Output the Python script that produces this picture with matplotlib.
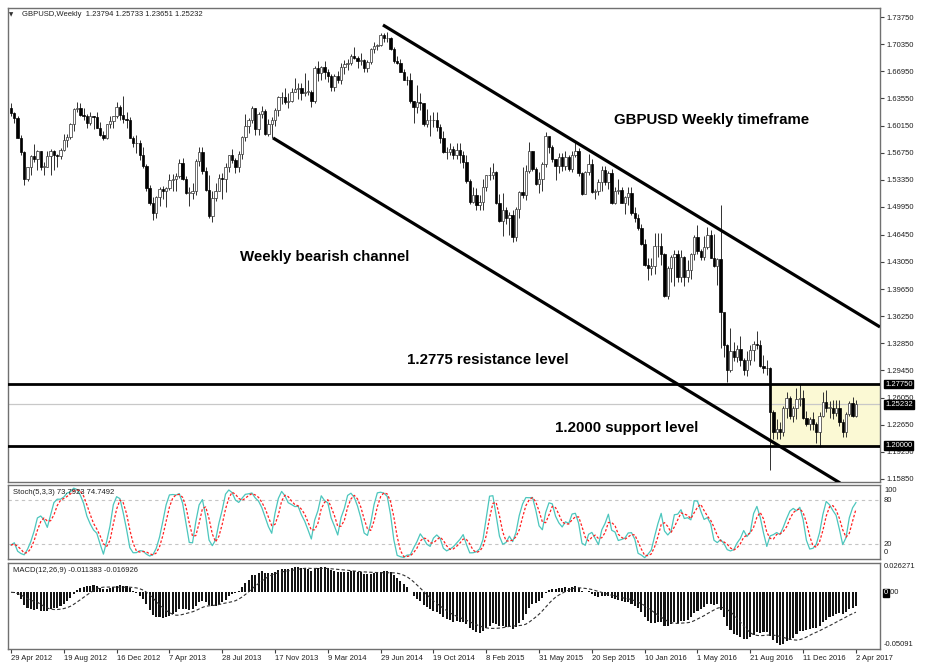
import numpy as np
import pandas as pd
import matplotlib
matplotlib.use('Agg')
import matplotlib.pyplot as plt
import matplotlib.transforms as mtransforms
from matplotlib.patches import Rectangle

plt.rcParams['font.family'] = ['Liberation Sans', 'DejaVu Sans']

# weekly GBPUSD bars, 29 Apr 2012 .. 2 Apr 2017 (open = previous close)
first_open = 1.6235
highs = [
    1.6300, 1.6180, 1.6130, 1.5900, 1.5700, 1.5500, 1.5650, 1.5780, 1.5710, 1.5690,
    1.5560, 1.5700, 1.5720, 1.5710, 1.5660, 1.5730, 1.5910, 1.5910, 1.6050, 1.6230,
    1.6310, 1.6300, 1.6230, 1.6160, 1.6180, 1.6140, 1.6180, 1.6060, 1.5940, 1.6030,
    1.6130, 1.6140, 1.6310, 1.6270, 1.6380, 1.6190, 1.6120, 1.5880, 1.5900, 1.5830,
    1.5740, 1.5530, 1.5270, 1.5120, 1.5130, 1.5240, 1.5260, 1.5250, 1.5410, 1.5410,
    1.5420, 1.5600, 1.5610, 1.5380, 1.5240, 1.5290, 1.5600, 1.5750, 1.5750, 1.5490,
    1.5400, 1.5200, 1.5300, 1.5410, 1.5420, 1.5550, 1.5650, 1.5720, 1.5610, 1.5690,
    1.5880, 1.6160, 1.6110, 1.6260, 1.6240, 1.6180, 1.6260, 1.6220, 1.6100, 1.6120,
    1.6230, 1.6380, 1.6440, 1.6480, 1.6420, 1.6490, 1.6610, 1.6550, 1.6550, 1.6670,
    1.6590, 1.6460, 1.6760, 1.6820, 1.6760, 1.6820, 1.6720, 1.6660, 1.6660, 1.6700,
    1.6800, 1.6840, 1.6850, 1.6910, 1.7000, 1.6880, 1.6920, 1.6850, 1.6840, 1.6990,
    1.7060, 1.7040, 1.7180, 1.7180, 1.7190, 1.7120, 1.7000, 1.6880, 1.6850, 1.6720,
    1.6630, 1.6670, 1.6320, 1.6520, 1.6420, 1.6300, 1.6220, 1.6150, 1.6190, 1.6190,
    1.6030, 1.5950, 1.5740, 1.5800, 1.5760, 1.5790, 1.5790, 1.5690, 1.5640, 1.5340,
    1.5250, 1.5230, 1.5150, 1.5350, 1.5400, 1.5490, 1.5550, 1.5450, 1.5160, 1.5170,
    1.4990, 1.4930, 1.4960, 1.5000, 1.5190, 1.5500, 1.5520, 1.5810, 1.5700, 1.5490,
    1.5430, 1.5560, 1.5930, 1.5800, 1.5770, 1.5590, 1.5670, 1.5670, 1.5690, 1.5650,
    1.5690, 1.5820, 1.5730, 1.5430, 1.5440, 1.5660, 1.5600, 1.5220, 1.5340, 1.5510,
    1.5510, 1.5440, 1.5470, 1.5240, 1.5340, 1.5250, 1.5130, 1.5240, 1.5240, 1.4990,
    1.4910, 1.4780, 1.4590, 1.4350, 1.4350, 1.4670, 1.4670, 1.4670, 1.4420, 1.4250,
    1.4390, 1.4460, 1.4450, 1.4460, 1.4380, 1.4330, 1.4420, 1.4640, 1.4770, 1.4470,
    1.4630, 1.4740, 1.4700, 1.4660, 1.4350, 1.5020, 1.3480, 1.3280, 1.3480, 1.3300,
    1.3270, 1.3380, 1.3100, 1.3190, 1.3260, 1.3320, 1.3440, 1.3330, 1.3140, 1.3080,
    1.2990, 1.2450, 1.2340, 1.2300, 1.2500, 1.2670, 1.2630, 1.2500, 1.2720, 1.2770,
    1.2700, 1.2440, 1.2360, 1.2430, 1.2300, 1.2420, 1.2670, 1.2700, 1.2560, 1.2580,
    1.2570, 1.2570, 1.2340, 1.2420, 1.2560, 1.2610, 1.25733]
lows = [
    1.6140, 1.6050, 1.5860, 1.5640, 1.5270, 1.5320, 1.5400, 1.5560, 1.5460, 1.5460,
    1.5390, 1.5490, 1.5400, 1.5460, 1.5500, 1.5590, 1.5700, 1.5740, 1.5840, 1.5950,
    1.6180, 1.6140, 1.6080, 1.5980, 1.6020, 1.5970, 1.5990, 1.5880, 1.5830, 1.5850,
    1.5990, 1.5990, 1.6110, 1.6090, 1.6050, 1.5990, 1.5860, 1.5750, 1.5670, 1.5580,
    1.5480, 1.5190, 1.5020, 1.4830, 1.4860, 1.5010, 1.5100, 1.4990, 1.5210, 1.5190,
    1.5200, 1.5360, 1.5330, 1.5160, 1.5010, 1.5090, 1.5150, 1.5510, 1.5410, 1.5190,
    1.4850, 1.4810, 1.5070, 1.5190, 1.5100, 1.5180, 1.5430, 1.5540, 1.5420, 1.5430,
    1.5600, 1.5820, 1.5920, 1.6050, 1.5890, 1.5890, 1.6110, 1.5890, 1.5880, 1.5860,
    1.6010, 1.6140, 1.6280, 1.6290, 1.6230, 1.6310, 1.6430, 1.6350, 1.6340, 1.6390,
    1.6400, 1.6250, 1.6300, 1.6570, 1.6580, 1.6600, 1.6560, 1.6450, 1.6450, 1.6550,
    1.6530, 1.6660, 1.6710, 1.6770, 1.6850, 1.6730, 1.6770, 1.6690, 1.6690, 1.6780,
    1.6920, 1.6960, 1.7010, 1.7060, 1.7060, 1.6960, 1.6800, 1.6790, 1.6680, 1.6580,
    1.6520, 1.6300, 1.6050, 1.6170, 1.6210, 1.6010, 1.6000, 1.5880, 1.6000, 1.5950,
    1.5790, 1.5670, 1.5590, 1.5640, 1.5590, 1.5590, 1.5540, 1.5480, 1.5300, 1.5030,
    1.5040, 1.4950, 1.4950, 1.4950, 1.5190, 1.5330, 1.5350, 1.5030, 1.4800, 1.4630,
    1.4780, 1.4640, 1.4560, 1.4570, 1.4860, 1.5110, 1.5080, 1.5420, 1.5450, 1.5270,
    1.5170, 1.5200, 1.5490, 1.5670, 1.5560, 1.5330, 1.5420, 1.5440, 1.5460, 1.5450,
    1.5430, 1.5620, 1.5380, 1.5150, 1.5170, 1.5390, 1.5170, 1.5100, 1.5150, 1.5200,
    1.5270, 1.5220, 1.5030, 1.5030, 1.5160, 1.5040, 1.4900, 1.5020, 1.4890, 1.4800,
    1.4710, 1.4520, 1.4260, 1.4080, 1.4140, 1.4150, 1.4370, 1.4270, 1.3870, 1.3840,
    1.4060, 1.4000, 1.4060, 1.4060, 1.4000, 1.4050, 1.4090, 1.4330, 1.4410, 1.4330,
    1.4330, 1.4470, 1.4350, 1.4240, 1.4010, 1.3230, 1.3120, 1.2800, 1.2930, 1.3060,
    1.3050, 1.3000, 1.2890, 1.2870, 1.3010, 1.3060, 1.3220, 1.2990, 1.2910, 1.2890,
    1.1700, 1.2080, 1.2090, 1.2080, 1.2120, 1.2350, 1.2340, 1.2300, 1.2340, 1.2500,
    1.2340, 1.2250, 1.2200, 1.2200, 1.2040, 1.1990, 1.2360, 1.2420, 1.2350, 1.2340,
    1.2380, 1.2250, 1.2110, 1.2110, 1.2380, 1.2365, 1.23651]
closes = [
    1.6170, 1.6110, 1.5860, 1.5680, 1.5350, 1.5490, 1.5630, 1.5590, 1.5700, 1.5500,
    1.5500, 1.5630, 1.5700, 1.5640, 1.5630, 1.5710, 1.5830, 1.5870, 1.6030, 1.6220,
    1.6230, 1.6150, 1.6140, 1.6050, 1.6130, 1.6120, 1.5990, 1.5890, 1.5860, 1.6030,
    1.6070, 1.6130, 1.6250, 1.6150, 1.6100, 1.6080, 1.5860, 1.5790, 1.5790, 1.5640,
    1.5510, 1.5230, 1.5040, 1.4920, 1.5120, 1.5220, 1.5190, 1.5230, 1.5330, 1.5340,
    1.5380, 1.5540, 1.5350, 1.5170, 1.5170, 1.5200, 1.5570, 1.5680, 1.5450, 1.5210,
    1.4880, 1.5110, 1.5200, 1.5360, 1.5350, 1.5500, 1.5640, 1.5580, 1.5500, 1.5660,
    1.5870, 1.6010, 1.6090, 1.6230, 1.5970, 1.6160, 1.6200, 1.5910, 1.6040, 1.6080,
    1.6210, 1.6370, 1.6370, 1.6310, 1.6320, 1.6440, 1.6470, 1.6480, 1.6420, 1.6440,
    1.6440, 1.6320, 1.6740, 1.6670, 1.6750, 1.6680, 1.6630, 1.6500, 1.6630, 1.6580,
    1.6750, 1.6780, 1.6800, 1.6890, 1.6860, 1.6820, 1.6830, 1.6740, 1.6810, 1.6970,
    1.7010, 1.7020, 1.7150, 1.7110, 1.7110, 1.6980, 1.6820, 1.6800, 1.6690, 1.6590,
    1.6580, 1.6320, 1.6250, 1.6310, 1.6300, 1.6040, 1.6080, 1.6080, 1.6080, 1.6000,
    1.5860, 1.5680, 1.5680, 1.5720, 1.5640, 1.5710, 1.5650, 1.5560, 1.5320, 1.5060,
    1.5150, 1.5020, 1.5060, 1.5250, 1.5390, 1.5390, 1.5430, 1.5050, 1.4820, 1.4960,
    1.4860, 1.4890, 1.4620, 1.4970, 1.5180, 1.5150, 1.5450, 1.5690, 1.5470, 1.5280,
    1.5350, 1.5530, 1.5880, 1.5740, 1.5590, 1.5510, 1.5620, 1.5510, 1.5620, 1.5470,
    1.5640, 1.5700, 1.5420, 1.5160, 1.5430, 1.5530, 1.5180, 1.5190, 1.5310, 1.5460,
    1.5310, 1.5420, 1.5040, 1.5200, 1.5210, 1.5050, 1.5120, 1.5170, 1.4920, 1.4860,
    1.4730, 1.4530, 1.4270, 1.4230, 1.4250, 1.4500, 1.4500, 1.4400, 1.3880, 1.4230,
    1.4370, 1.4410, 1.4120, 1.4370, 1.4120, 1.4210, 1.4400, 1.4620, 1.4440, 1.4370,
    1.4490, 1.4640, 1.4360, 1.4250, 1.4340, 1.3680, 1.3270, 1.2950, 1.3190, 1.3110,
    1.3210, 1.3080, 1.2950, 1.3070, 1.3200, 1.3280, 1.3260, 1.3000, 1.2980, 1.2970,
    1.2430, 1.2180, 1.2210, 1.2180, 1.2480, 1.2600, 1.2380, 1.2470, 1.2590, 1.2600,
    1.2350, 1.2270, 1.2340, 1.2280, 1.2180, 1.2370, 1.2550, 1.2480, 1.2480, 1.2410,
    1.2480, 1.2300, 1.2170, 1.2400, 1.2540, 1.23794, 1.25232]

date_labels = ['29 Apr 2012', '19 Aug 2012', '16 Dec 2012', '7 Apr 2013', '28 Jul 2013',
               '17 Nov 2013', '9 Mar 2014', '29 Jun 2014', '19 Oct 2014', '8 Feb 2015',
               '31 May 2015', '20 Sep 2015', '10 Jan 2016', '1 May 2016', '21 Aug 2016',
               '11 Dec 2016', '2 Apr 2017']
price_ticks = [1.7375, 1.7035, 1.6695, 1.6355, 1.6015, 1.5675, 1.5335, 1.4995, 1.4645,
               1.4305, 1.3965, 1.3625, 1.3285, 1.2945, 1.2605, 1.2265, 1.1925, 1.1585]
resistance = 1.2775
support = 1.2000
last_price = 1.25232
# trendlines (bar index, price)
upper_channel = ([112.7, 263.3], [1.7275, 1.3490])
lower_channel = ([79.4, 251.2], [1.5859, 1.1535])
box_start = 230

W, H = 929, 664
def fx(x):
    return x / W
def fy(y):
    return 1 - y / H

n = len(closes)
idx = np.arange(n)
o = np.array([first_open] + closes[:-1])
c = np.array(closes)
hi = np.array(highs)
lo = np.array(lows)

# indicators
cs, hs, ls = pd.Series(c), pd.Series(hi), pd.Series(lo)
ll = ls.rolling(5, min_periods=1).min()
hh = hs.rolling(5, min_periods=1).max()
stoch_k = 100 * (cs - ll).rolling(3, min_periods=1).sum() / (hh - ll).rolling(3, min_periods=1).sum()
stoch_d = stoch_k.rolling(3, min_periods=1).mean()
macd = cs.ewm(span=12, adjust=False).mean() - cs.ewm(span=26, adjust=False).mean()
signal = macd.rolling(9, min_periods=1).mean()

fig = plt.figure(figsize=(W / 100, H / 100), dpi=100)
xl = (-0.91, 263.3)
spine_c = '#707070'

ax = fig.add_axes([fx(8), fy(482), 872 / W, 474 / H])
ax_st = fig.add_axes([fx(8), fy(559), 872 / W, 74 / H])
ax_md = fig.add_axes([fx(8), fy(649), 872 / W, 86 / H])
for a in (ax, ax_st, ax_md):
    a.set_xlim(*xl)
    for s in a.spines.values():
        s.set_color(spine_c)
        s.set_linewidth(1.0)
    a.tick_params(axis='x', bottom=False, labelbottom=False)
    a.tick_params(axis='y', left=False, labelleft=False)

# --- main price panel
ax.set_ylim(1.15472, 1.74878)
ax.add_patch(Rectangle((box_start, support), xl[1] - box_start, resistance - support,
                       facecolor='#fbf9d4', edgecolor='#606060', lw=0.6, zorder=0.5))
ax.axhline(last_price, color='#c8c8c8', lw=0.9, zorder=1)

ax.vlines(idx, lo, hi, color='#303030', lw=0.7, zorder=2)
bull = c >= o
body = np.maximum(np.abs(c - o), 0.0007)
bottom = np.minimum(o, c)
ax.bar(idx[bull], body[bull], bottom=bottom[bull], width=0.72, color='white',
       edgecolor='#303030', linewidth=0.5, zorder=3)
ax.bar(idx[~bull], body[~bull], bottom=bottom[~bull], width=0.72, color='black',
       edgecolor='black', linewidth=0.5, zorder=3)

ax.axhline(resistance, color='black', lw=2.0, zorder=4)
ax.axhline(support, color='black', lw=2.0, zorder=4)
ax.plot(*upper_channel, color='black', lw=2.3, zorder=4, solid_capstyle='butt')
ax.plot(*lower_channel, color='black', lw=2.3, zorder=4, solid_capstyle='butt')

ax.yaxis.tick_right()
ax.set_yticks(price_ticks)
ax.set_yticklabels(['%.5f' % v for v in price_ticks])
ax.tick_params(axis='y', right=True, labelright=True, direction='out', length=3,
               color='#404040', labelsize=5.5, pad=2, labelcolor='#202020')

trans = mtransforms.blended_transform_factory(ax.transAxes, ax.transData)
for v in (resistance, last_price, support):
    ax.text(1.0 + 5 / 872, v, '%.5f' % v, transform=trans, color='white', fontsize=5.5,
            va='center', ha='left', clip_on=False, zorder=10,
            bbox=dict(facecolor='black', edgecolor='black', pad=0.12, boxstyle='square'))

# --- stochastic panel
ax_st.set_ylim(0, 100)
for lv in (80, 20):
    ax_st.axhline(lv, color='#c4c4c4', lw=0.8, ls=(0, (3, 3)))
ax_st.plot(idx, stoch_k, color='#4cc6bd', lw=0.9)
ax_st.plot(idx, stoch_d, color='#ff2020', lw=0.9, ls=(0, (2, 1.5)))

# --- MACD panel
ax_md.set_ylim(-0.05091, 0.026271)
ax_md.bar(idx, macd, width=0.62, color='#141414', linewidth=0)
ax_md.plot(idx, signal, color='#303030', lw=0.8, ls=(0, (3, 2)))
ax_md.set_xticks(np.arange(0, n, 16))
ax_md.set_xticklabels(date_labels, ha='left')
ax_md.tick_params(axis='x', bottom=True, labelbottom=True, direction='out', length=3,
                  color='#404040', labelsize=5.5, pad=1, labelcolor='#202020')

# --- texts
fig.text(fx(9), fy(15), '\u25bc', fontsize=4, va='center', color='#303030',
         family=['DejaVu Sans'])
fig.text(fx(22), fy(15), 'GBPUSD,Weekly  1.23794 1.25733 1.23651 1.25232',
         fontsize=5.5, va='center', color='#202020')
fig.text(fx(13), fy(492), 'Stoch(5,3,3) 73.7923 74.7492', fontsize=5.5, va='center',
         color='#202020')
fig.text(fx(13), fy(570), 'MACD(12,26,9) -0.011383 -0.016926', fontsize=5.5,
         va='center', color='#202020')

side = [(490, '100'), (500, '80'), (545, '20'), (552, '0'),
        (567, '0.026271'), (645, '-0.05091')]
for yy, t in side:
    fig.text(fx(884), fy(yy), t, fontsize=5.5, va='center', color='#202020')
fig.text(fx(884), fy(593), '0', fontsize=5.5, va='center', color='white',
         bbox=dict(facecolor='black', edgecolor='black', pad=0.1, boxstyle='square'))
fig.text(fx(888.3), fy(593), '.00', fontsize=5.5, va='center', color='#202020')

bold = dict(fontsize=10.8, fontweight='bold', va='center', color='black')
fig.text(fx(614), fy(120), 'GBPUSD Weekly timeframe', **bold)
fig.text(fx(240), fy(257), 'Weekly bearish channel', **bold)
fig.text(fx(407), fy(360), '1.2775 resistance level', **bold)
fig.text(fx(555), fy(428), '1.2000 support level', **bold)

fig.savefig('out.png', dpi=100)
